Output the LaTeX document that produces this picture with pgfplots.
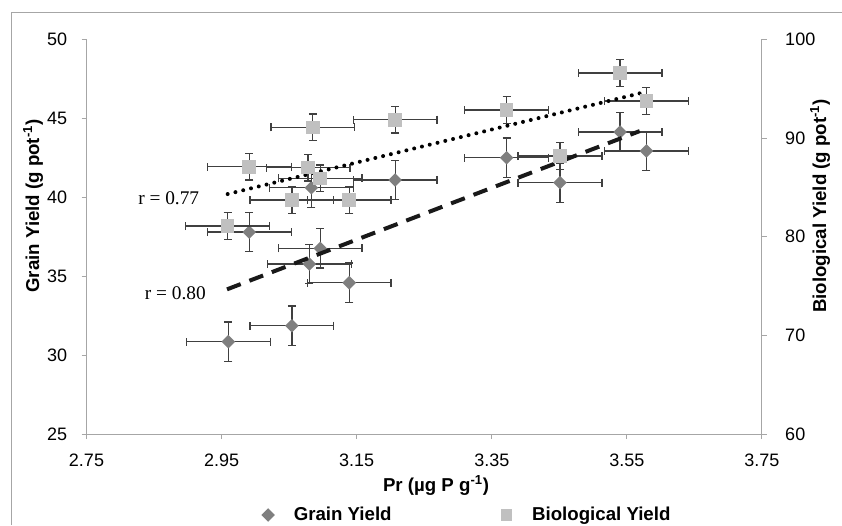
\documentclass[border=0pt]{standalone}
\usepackage{fontspec}
\setmainfont{Liberation Sans}
\newfontfamily\timesfont{Liberation Serif}
\usepackage{pgfplots}
\usepackage{pgfplotstable}
\pgfplotsset{compat=1.18}

\definecolor{axisgray}{HTML}{A6A6A6}
\definecolor{bargray}{HTML}{404040}
\definecolor{grainc}{HTML}{7F7F7F}
\definecolor{bioc}{HTML}{C0C0C0}

% filled marks without outline
\pgfdeclareplotmark{rdiam}{%
  \pgfpathmoveto{\pgfqpoint{0pt}{1.4142\pgfplotmarksize}}%
  \pgfpathlineto{\pgfqpoint{1.4142\pgfplotmarksize}{0pt}}%
  \pgfpathlineto{\pgfqpoint{0pt}{-1.4142\pgfplotmarksize}}%
  \pgfpathlineto{\pgfqpoint{-1.4142\pgfplotmarksize}{0pt}}%
  \pgfpathclose\pgfusepathqfill}
\pgfdeclareplotmark{fsq}{%
  \pgfpathrectangle{\pgfqpoint{-\pgfplotmarksize}{-\pgfplotmarksize}}%
    {\pgfqpoint{2\pgfplotmarksize}{2\pgfplotmarksize}}%
  \pgfusepathqfill}

% grain yield (left axis), x = Pr, ex/ey = error
\pgfplotstableread{
x      y      ex     ey
2.960  30.85  0.062  1.25
3.054  31.86  0.062  1.25
2.991  37.79  0.062  1.25
3.096  36.76  0.062  1.25
3.080  35.77  0.062  1.25
3.139  34.58  0.062  1.25
3.083  40.60  0.062  1.25
3.207  41.09  0.062  1.25
3.372  42.50  0.062  1.25
3.451  40.92  0.062  1.25
3.540  44.13  0.062  1.25
3.579  42.93  0.062  1.25
}\grain

% biological yield (right axis)
\pgfplotstableread{
x      y      ex     ey
2.959  81.08  0.062  1.35
3.054  83.71  0.062  1.35
3.139  83.71  0.062  1.35
2.991  87.09  0.062  1.35
3.078  86.99  0.062  1.35
3.096  85.91  0.062  1.35
3.085  91.08  0.062  1.35
3.207  91.85  0.062  1.35
3.372  92.83  0.062  1.35
3.451  88.17  0.062  1.35
3.540  96.60  0.062  1.35
3.579  93.75  0.062  1.35
}\bio

\pgfplotsset{
  base/.style={
    scale only axis, width=506.6pt, height=296pt,
    at={(64.875pt,68.25pt)}, anchor=south west,
    xmin=2.75, xmax=3.75,
    tick align=outside, major tick length=3.75pt,
    every tick/.style={axisgray, line width=0.75pt},
    axis line style={axisgray, line width=0.75pt, -},
    ticklabel style={font=\fontsize{13.5}{15}\selectfont,
      /pgf/number format/assume math mode=true},
    clip=false,
  },
  ebars/.style={
    error bars/.cd, x dir=both, x explicit, y dir=both, y explicit,
    error bar style={bargray, line width=1pt},
    error mark options={rotate=90, bargray, line width=1pt, mark size=3pt},
    /pgfplots/.cd,
  },
  limg/.style={legend image code/.code={\path (0pt,0pt) (26pt,0pt);
    \draw[##1] plot coordinates {(9pt,0pt)};}},
}

\begin{document}
\begin{tikzpicture}[x=0.75pt,y=0.75pt]
\useasboundingbox (0,0) rectangle (842,525);
\draw[axisgray, line width=0.75pt] (11.5,0) -- (11.5,512.5) -- (842,512.5);

\begin{axis}[base,
  axis x line*=bottom, axis y line*=left,
  ymin=25, ymax=50, ytick={25,30,...,50},
  xtick={2.75,2.95,3.15,3.35,3.55,3.75},
  xticklabels={2.75,2.95,3.15,3.35,3.55,3.75},
  yticklabel style={inner sep=0pt, xshift=-10.5pt},
  xticklabel style={inner sep=0pt, yshift=-11pt},
  legend columns=2,
  legend style={at={(0.5596,-0.2052)}, anchor=center, draw=none, fill=none,
    font=\bfseries\fontsize{14}{16}\selectfont,
    /tikz/every even column/.append style={column sep=75pt}},
]
\addplot[only marks, color=grainc, mark=rdiam, mark size=3.6pt, limg, ebars]
  table[x=x, y=y, x error=ex, y error=ey]{\grain};
\addlegendentry{Grain Yield}
\addlegendimage{only marks, color=bioc, mark=fsq, mark size=4.4pt, limg}
\addlegendentry{Biological Yield}
\end{axis}

\begin{axis}[base,
  axis x line=none, axis y line*=right,
  ymin=60, ymax=100, ytick={60,70,...,100},
  yticklabel style={inner sep=0pt, xshift=13.5pt},
]
\addplot[only marks, color=bioc, mark=fsq, mark size=5.1pt, ebars]
  table[x=x, y=y, x error=ex, y error=ey]{\bio};
% trend lines
\addplot[black, line width=3pt, line cap=round, dash pattern=on 0pt off 6pt]
  coordinates {(2.959,84.32) (3.573,94.59)};
\addplot[black!90, line width=3pt, dash pattern=on 11pt off 7pt]
  coordinates {(2.958,74.66) (3.569,90.70)};
\end{axis}

\node[rotate=90, font=\bfseries\fontsize{14}{16}\selectfont] at (33,319) {Grain Yield (g pot\textsuperscript{-1})};
\node[rotate=90, font=\bfseries\fontsize{14}{16}\selectfont] at (820,319) {Biological Yield (g pot\textsuperscript{-1})};
\node[font=\bfseries\fontsize{14}{16}\selectfont] at (436,40) {Pr (µg P g\textsuperscript{-1})};
\node[font=\timesfont\fontsize{14.5}{16}\selectfont] at (168.7,326.7) {r = 0.77};
\node[font=\timesfont\fontsize{14.5}{16}\selectfont] at (175.3,231.7) {r = 0.80};
\end{tikzpicture}
\end{document}
